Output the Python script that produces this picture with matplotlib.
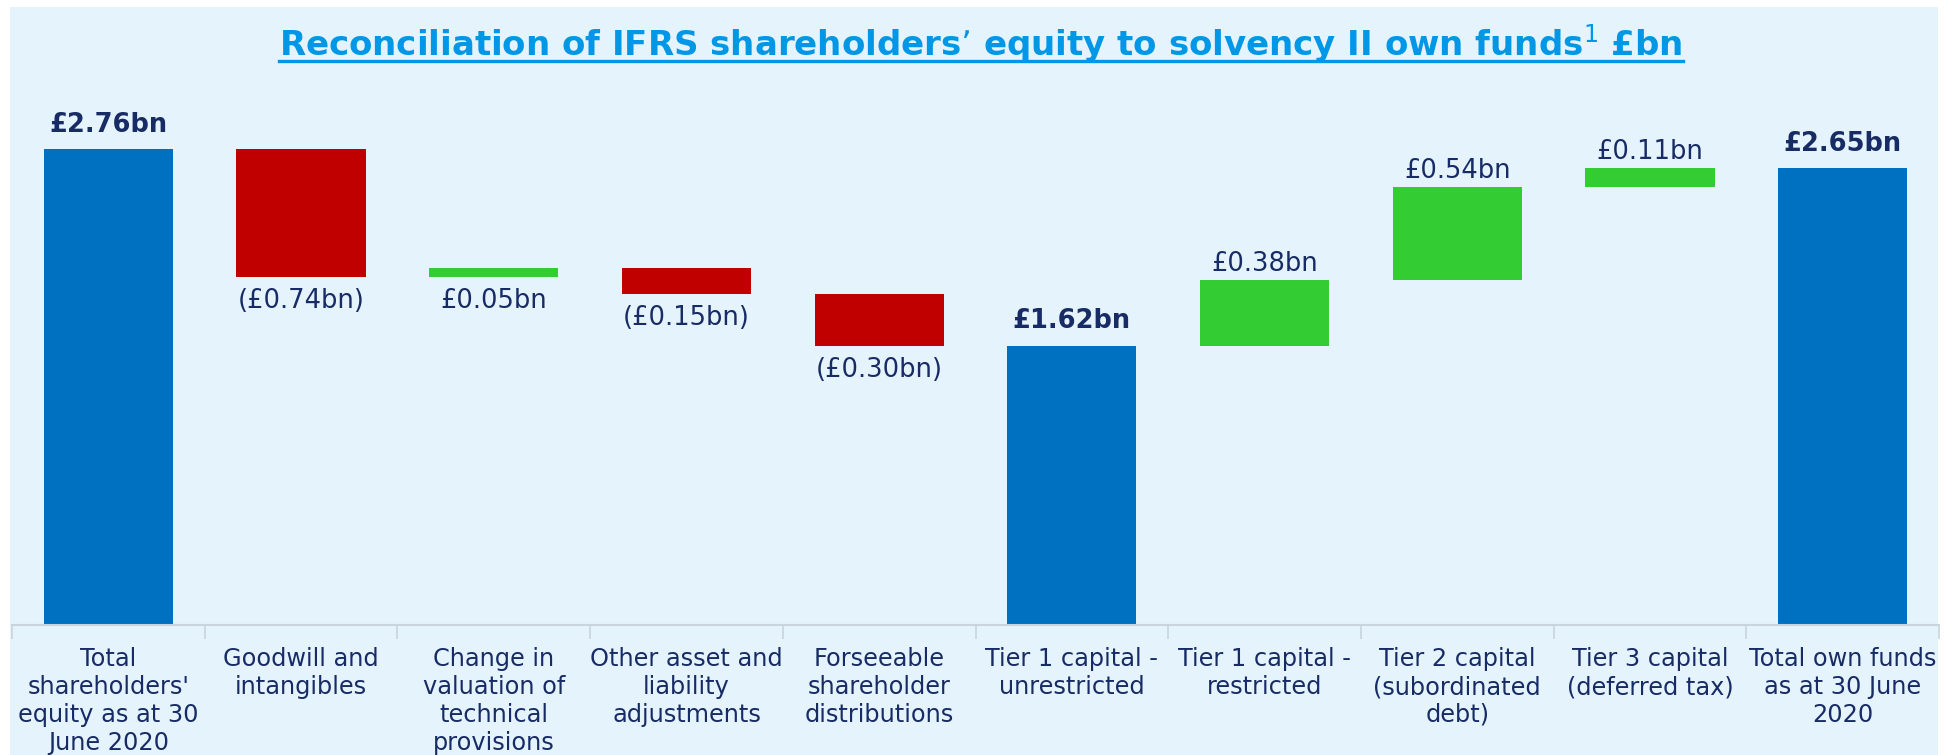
import matplotlib
matplotlib.use("Agg")
import matplotlib.pyplot as plt
import numpy as np
from matplotlib.patches import Rectangle
from matplotlib.lines import Line2D

# ── data ─────────────────────────────────────────────────────────────────────
categories = [
    "Total\nshareholders'\nequity as at 30\nJune 2020",
    "Goodwill and\nintangibles",
    "Change in\nvaluation of\ntechnical\nprovisions",
    "Other asset and\nliability\nadjustments",
    "Forseeable\nshareholder\ndistributions",
    "Tier 1 capital -\nunrestricted",
    "Tier 1 capital -\nrestricted",
    "Tier 2 capital\n(subordinated\ndebt)",
    "Tier 3 capital\n(deferred tax)",
    "Total own funds\nas at 30 June\n2020",
]
values = [2.76, -0.74, 0.05, -0.15, -0.30, 1.62, 0.38, 0.54, 0.11, 2.65]
kinds = ["total", "step", "step", "step", "step", "total", "step", "step", "step", "total"]
value_labels = ["£2.76bn", "(£0.74bn)", "£0.05bn", "(£0.15bn)", "(£0.30bn)",
                "£1.62bn", "£0.38bn", "£0.54bn", "£0.11bn", "£2.65bn"]
label_side = ["above", "below", "below", "below", "below",
              "above", "above", "above", "above", "above"]

BLUE = "#0070C0"
RED = "#C00000"
GREEN = "#33CC33"
NAVY = "#172B65"
BG = "#E5F3FD"
TITLE_C = "#0097E6"
AXIS_C = "#C9D4DD"

W, H = 1959, 755
fig = plt.figure(figsize=(W / 100, H / 100), dpi=100)
fig.patch.set_facecolor("white")
fig.patches.append(Rectangle((10 / W, 0), 1928 / W, 748 / H, transform=fig.transFigure,
                             facecolor=BG, edgecolor="none", zorder=-5))

ax = fig.add_axes([12 / W, 130 / H, 1927 / W, 555 / H])
ax.set_facecolor("none")
ax.set_zorder(2)

# waterfall bottoms / heights
bottoms, heights, colors = [], [], []
running = 0.0
for v, k in zip(values, kinds):
    if k == "total":
        bottoms.append(0.0)
        heights.append(v)
        colors.append(BLUE)
        running = v
    else:
        lo = running if v >= 0 else running + v
        bottoms.append(lo)
        heights.append(abs(v))
        colors.append(GREEN if v >= 0 else RED)
        running += v

x = np.arange(len(categories))
ax.bar(x, heights, bottom=bottoms, width=0.67, color=colors, zorder=2)

for i, (b, h) in enumerate(zip(bottoms, heights)):
    bold = kinds[i] == "total"
    if label_side[i] == "above":
        ax.annotate(value_labels[i], (x[i], b + h), xytext=(0, 8 if bold else 2),
                    textcoords="offset points", ha="center", va="bottom",
                    fontsize=18.5, fontweight="bold" if bold else "normal",
                    color=NAVY)
    else:
        ax.annotate(value_labels[i], (x[i], b), xytext=(0, -8),
                    textcoords="offset points", ha="center", va="top",
                    fontsize=18.5, color=NAVY)

ax.set_xlim(-0.5, len(categories) - 0.5)
ax.set_ylim(0, 555 / 172.5)
for s in ["top", "right", "left"]:
    ax.spines[s].set_visible(False)
ax.spines["bottom"].set_color(AXIS_C)
ax.spines["bottom"].set_linewidth(1.5)
ax.set_yticks([])
ax.set_xticks(x)
ax.set_xticklabels(categories, fontsize=17.3, color=NAVY, linespacing=1.2)
ax.tick_params(axis="x", which="major", length=0, pad=16)
ax.set_xticks(np.arange(-0.5, len(categories)), minor=True)
ax.tick_params(axis="x", which="minor", length=10, width=1.2, color=AXIS_C)

title = fig.text(0.5008, 1 - 44 / H,
                 "Reconciliation of IFRS shareholders’ equity to solvency II own funds$^{1}$ £bn",
                 ha="center", va="center", fontsize=24.5, fontweight="bold", color=TITLE_C)
fig.canvas.draw()
bb = title.get_window_extent().transformed(fig.transFigure.inverted())
uy = 1 - 61 / H
fig.lines.append(Line2D([bb.x0, bb.x1], [uy, uy], transform=fig.transFigure,
                        color=TITLE_C, linewidth=2.4))

fig.savefig("out.png", dpi=100, facecolor="white")
